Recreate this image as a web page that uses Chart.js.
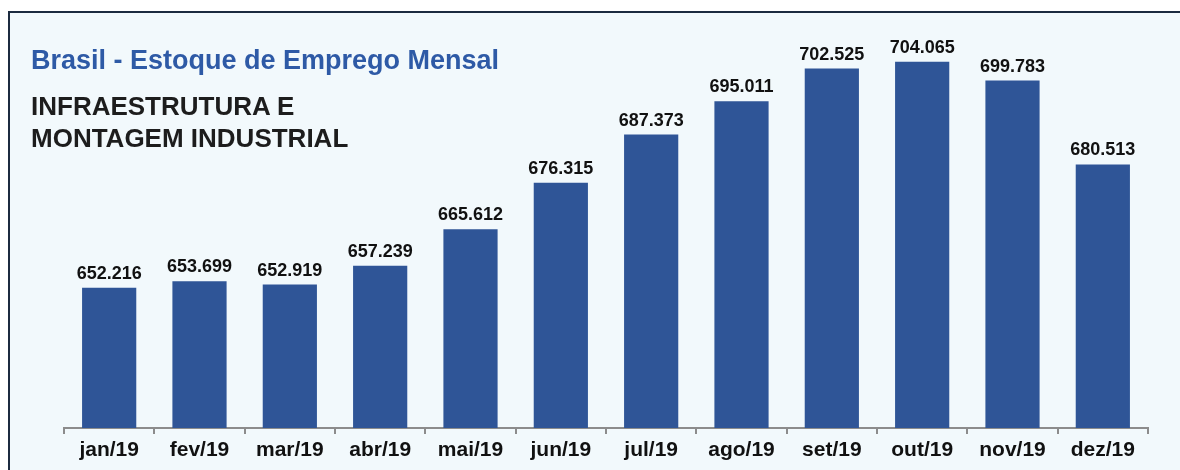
<!DOCTYPE html>
<html>
<head>
<meta charset="utf-8">
<script src="https://cdn.jsdelivr.net/npm/chart.js@4"></script>
<style>
  html, body { margin: 0; padding: 0; background: #fff; }
  #wrap { position: relative; width: 1180px; height: 470px; overflow: hidden; background: #fff; }
  #frame {
    position: absolute; left: 8px; top: 11px; width: 1200px; height: 480px;
    background: #f2f9fc; border: 2px solid #1c2b40; box-sizing: border-box;
  }
  canvas { position: absolute; left: 0; top: 0; }
  .title {
    position: absolute; left: 31px; top: 47px;
    font: bold 27px "Liberation Sans", Arial, sans-serif; color: #2e5aa6;
    line-height: 27px; white-space: nowrap;
  }
  .subtitle {
    position: absolute; left: 31px; top: 90px;
    font: bold 26px "Liberation Sans", Arial, sans-serif; color: #1d1d1d;
    line-height: 32px; white-space: nowrap;
  }
</style>
</head>
<body>
<div id="wrap">
  <div id="frame"></div>
  <canvas id="chart" width="1180" height="470"></canvas>
  <div class="title">Brasil - Estoque de Emprego Mensal</div>
  <div class="subtitle">INFRAESTRUTURA E<br>MONTAGEM INDUSTRIAL</div>
</div>
<script>
// Data
const months = ['jan/19', 'fev/19', 'mar/19', 'abr/19', 'mai/19', 'jun/19',
                'jul/19', 'ago/19', 'set/19', 'out/19', 'nov/19', 'dez/19'];
const stock = [652216, 653699, 652919, 657239, 665612, 676315,
               687373, 695011, 702525, 704065, 699783, 680513];
const yMin = 620000;
const yMax = 710000;

const fmt = v => v.toLocaleString('pt-BR');

// draws the value above each bar
const valueLabels = {
  id: 'valueLabels',
  afterDatasetsDraw(chart) {
    const ctx = chart.ctx;
    const meta = chart.getDatasetMeta(0);
    ctx.save();
    ctx.font = 'bold 18px "Liberation Sans", Arial, sans-serif';
    ctx.fillStyle = '#111';
    ctx.textAlign = 'center';
    ctx.textBaseline = 'alphabetic';
    meta.data.forEach((bar, i) => {
      ctx.fillText(fmt(stock[i]), bar.x, bar.y - 9);
    });
    ctx.restore();
  }
};

new Chart(document.getElementById('chart'), {
  type: 'bar',
  data: {
    labels: months,
    datasets: [{
      data: stock,
      backgroundColor: '#2f5597',
      categoryPercentage: 0.6,
      barPercentage: 1
    }]
  },
  options: {
    responsive: false,
    animation: false,
    layout: { padding: { left: 64, right: 32, top: 36, bottom: 0 } },
    plugins: { legend: { display: false }, tooltip: { enabled: false } },
    scales: {
      x: {
        afterFit(scale) { scale.height = 42; },
        grid: {
          offset: true,
          drawOnChartArea: false,
          tickLength: 6,
          color: '#8c8c8c',
          lineWidth: 2
        },
        border: { color: '#8c8c8c', width: 2 },
        ticks: {
          color: '#111',
          padding: 4,
          font: { family: '"Liberation Sans", Arial, sans-serif', size: 21, weight: 'bold' }
        }
      },
      y: {
        display: false,
        min: yMin,
        max: yMax
      }
    }
  },
  plugins: [valueLabels]
});
</script>
</body>
</html>
